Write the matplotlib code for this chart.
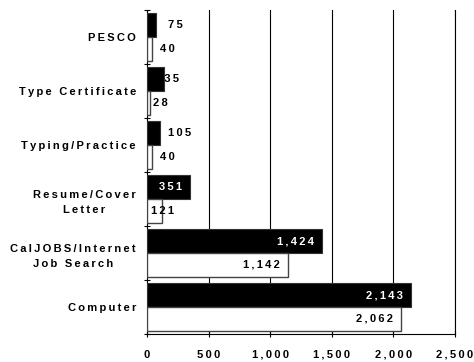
import matplotlib
matplotlib.use("Agg")
import matplotlib.pyplot as plt
import matplotlib.transforms as mtransforms
import numpy as np

plt.rcParams["font.family"] = ["Liberation Sans", "DejaVu Sans"]
plt.rcParams["font.weight"] = "bold"

categories = ["PESCO", "Type Certificate", "Typing/Practice",
              "Resume/Cover\nLetter", "CalJOBS/Internet\nJob Search", "Computer"]
served_a = [75, 135, 105, 351, 1424, 2143]   # black bars
served_b = [40, 28, 40, 121, 1142, 2062]     # white bars
xticks = [0, 500, 1000, 1500, 2000, 2500]

# horizontal nudges (pixels) for labels of short bars that sit past the bar end
dx_a = [19, 4, 20, None, None, None]
dx_b = [15, 10, 15, 1, None, None]

TS = "\u2009"
FS = 8


def spaced(s):
    return "\n".join(TS.join(line) for line in s.split("\n"))


def fmt(v):
    return spaced(f"{v:,}")


fig = plt.figure(figsize=(4.74, 3.62), dpi=100)
ax = fig.add_axes([147 / 474, 28 / 362, 308 / 474, 324 / 362])

y = np.arange(len(categories))
h = 0.44
ax.barh(y - 0.22, served_a, height=h, color="black", edgecolor="#333333", linewidth=0.8, zorder=3)
ax.barh(y + 0.22, served_b, height=h, color="white", edgecolor="#444444", linewidth=1.0, zorder=3)

px = 72 / 100  # pixels -> points
for yi, v, d in zip(y - 0.22, served_a, dx_a):
    if d is None:
        ax.annotate(fmt(v), (v, yi), xytext=(-8 * px, 0), textcoords="offset points",
                    ha="right", va="center", color="white", fontsize=FS, fontweight="bold", zorder=4)
    else:
        ax.annotate(fmt(v), (v, yi), xytext=(d * px, 0), textcoords="offset points",
                    ha="center", va="center", color="black", fontsize=FS, fontweight="bold", zorder=4)
for yi, v, d in zip(y + 0.22, served_b, dx_b):
    if d is None:
        ax.annotate(fmt(v), (v, yi), xytext=(-8 * px, 0), textcoords="offset points",
                    ha="right", va="center", color="black", fontsize=FS, fontweight="bold", zorder=4)
    else:
        ax.annotate(fmt(v), (v, yi), xytext=(d * px, 0), textcoords="offset points",
                    ha="center", va="center", color="black", fontsize=FS, fontweight="bold", zorder=4)

ax.set_xlim(0, 2500)
ax.set_ylim(len(categories) - 0.5, -0.5)
ax.set_xticks(xticks)
ax.set_xticklabels([fmt(t) for t in xticks], fontsize=FS, fontweight="bold")
shift = mtransforms.ScaledTranslation(-4 / 100, 0, fig.dpi_scale_trans)
for lab in ax.get_xticklabels():
    lab.set_transform(lab.get_transform() + shift)
ax.set_yticks(y)
ax.set_yticklabels([spaced(c) for c in categories], fontsize=FS, fontweight="bold",
                   ha="right", multialignment="center", linespacing=1.6)
ax.set_yticks(np.arange(-0.5, len(categories)), minor=True)
ax.tick_params(axis="y", which="major", length=0, pad=8)
ax.tick_params(axis="y", which="minor", direction="inout", length=5, width=0.8)
ax.tick_params(axis="x", direction="inout", length=5, width=0.8, pad=9)

for t in xticks[1:]:
    ax.axvline(t, color="black", linewidth=0.8, zorder=1)

ax.spines["top"].set_visible(False)
for s in ("left", "bottom", "right"):
    ax.spines[s].set_linewidth(0.8)

fig.savefig("out.png", dpi=100, facecolor="white")
